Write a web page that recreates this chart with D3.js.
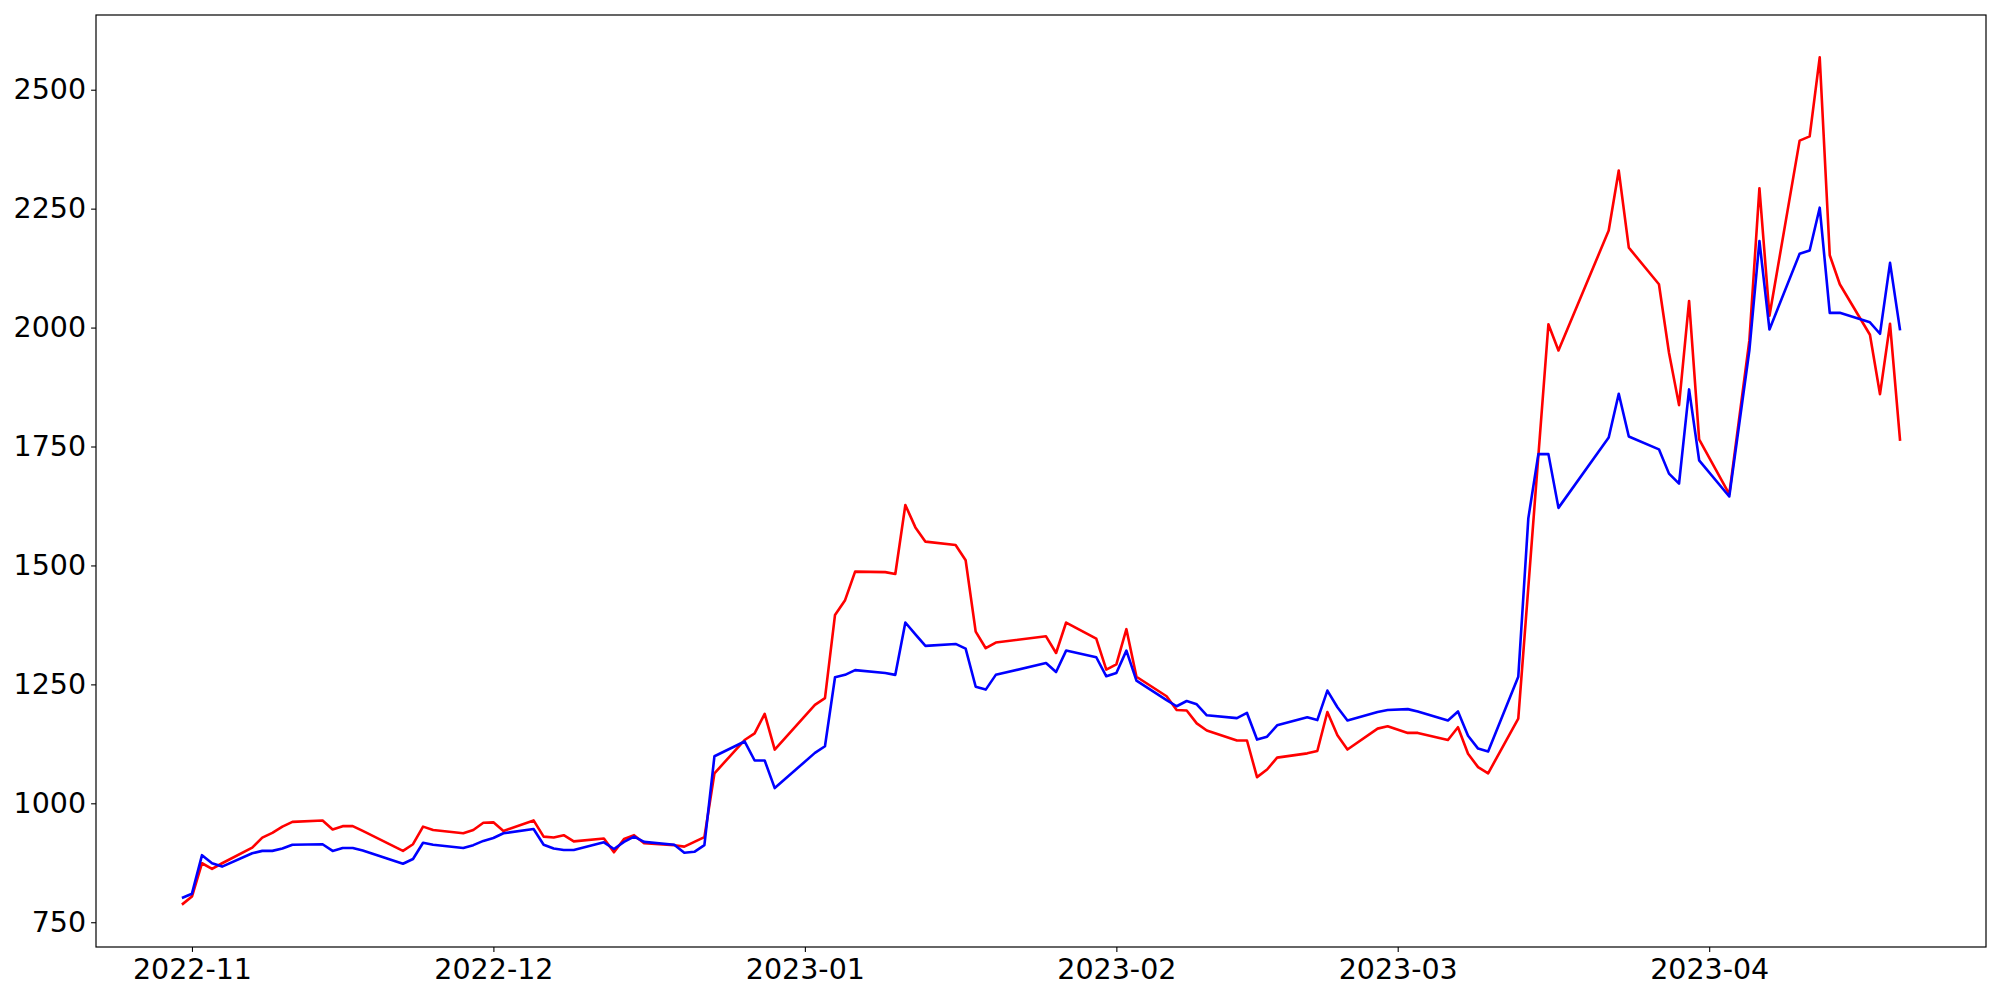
<!DOCTYPE html>
<html>
<head>
<meta charset="utf-8">
<script src="https://cdn.jsdelivr.net/npm/d3@7"></script>
<style>
  body { margin: 0; background: #fff; }
  svg { display: block; }
  .tick text { font-family: "DejaVu Sans", sans-serif; font-size: 28.5px; fill: #000; }
</style>
</head>
<body>
<svg></svg>
<script>
var dates = [
    "2022-10-31", "2022-11-01", "2022-11-02", "2022-11-03", "2022-11-04",
    "2022-11-07", "2022-11-08", "2022-11-09", "2022-11-10", "2022-11-11",
    "2022-11-14", "2022-11-15", "2022-11-16", "2022-11-17", "2022-11-18",
    "2022-11-22", "2022-11-23", "2022-11-24", "2022-11-25",
    "2022-11-28", "2022-11-29", "2022-11-30",
    "2022-12-01", "2022-12-02",
    "2022-12-05", "2022-12-06", "2022-12-07", "2022-12-08", "2022-12-09",
    "2022-12-12", "2022-12-13", "2022-12-14", "2022-12-15", "2022-12-16",
    "2022-12-19", "2022-12-20", "2022-12-21", "2022-12-22", "2022-12-23",
    "2022-12-26", "2022-12-27", "2022-12-28", "2022-12-29",
    "2023-01-02", "2023-01-03", "2023-01-04", "2023-01-05", "2023-01-06",
    "2023-01-09", "2023-01-10", "2023-01-11", "2023-01-12", "2023-01-13",
    "2023-01-16", "2023-01-17", "2023-01-18", "2023-01-19", "2023-01-20",
    "2023-01-25", "2023-01-26", "2023-01-27",
    "2023-01-30", "2023-01-31",
    "2023-02-01", "2023-02-02", "2023-02-03",
    "2023-02-06", "2023-02-07", "2023-02-08", "2023-02-09", "2023-02-10",
    "2023-02-13", "2023-02-14", "2023-02-15", "2023-02-16", "2023-02-17",
    "2023-02-20", "2023-02-21", "2023-02-22", "2023-02-23", "2023-02-24",
    "2023-02-27", "2023-02-28",
    "2023-03-02", "2023-03-03",
    "2023-03-06", "2023-03-07", "2023-03-08", "2023-03-09", "2023-03-10",
    "2023-03-13", "2023-03-14", "2023-03-15", "2023-03-16", "2023-03-17",
    "2023-03-22", "2023-03-23", "2023-03-24",
    "2023-03-27", "2023-03-28", "2023-03-29", "2023-03-30", "2023-03-31",
    "2023-04-03", "2023-04-05", "2023-04-06", "2023-04-07",
    "2023-04-10", "2023-04-11", "2023-04-12", "2023-04-13", "2023-04-14",
    "2023-04-17", "2023-04-18", "2023-04-19", "2023-04-20"
];

var redValues = [
    787, 804, 874, 862, 874,
    907, 928, 938, 951, 961,
    964, 945, 952, 952, 942,
    900, 914, 951, 944,
    937, 944, 959,
    960, 942,
    964, 930, 928, 933, 920,
    926, 897, 925, 933, 916,
    912, 909, 919, 929, 1063,
    1133, 1147, 1188, 1113,
    1207, 1221, 1396, 1427, 1487,
    1486, 1482, 1627, 1580, 1550,
    1543, 1511, 1361, 1326, 1338,
    1351, 1316, 1380,
    1346, 1281,
    1292, 1366, 1266,
    1225, 1196, 1195, 1168, 1153,
    1132, 1132, 1055, 1071, 1096,
    1105, 1110, 1192, 1143, 1113,
    1157, 1162,
    1148, 1148,
    1133, 1160, 1104, 1076, 1063,
    1178, 1454, 1731, 2007, 1952,
    2204, 2330, 2168,
    2091, 1947, 1837, 2056, 1765,
    1650, 1973, 2293, 2025,
    2393, 2402, 2568, 2152, 2091,
    1985, 1860, 2008, 1762
];

var blueValues = [
    801, 810, 891, 874, 867,
    895, 900, 900, 905, 913,
    914, 900, 906, 906, 901,
    873, 883, 917, 913,
    906, 912, 921,
    927, 937,
    946, 913, 905, 902, 902,
    918, 904, 919, 930, 919,
    913, 896, 898, 912, 1099,
    1130, 1090, 1090, 1032,
    1106, 1120, 1265, 1270, 1280,
    1274, 1270, 1380, 1355, 1331,
    1335, 1325, 1245, 1239, 1270,
    1295, 1276, 1321,
    1307, 1267,
    1274, 1321, 1258,
    1217, 1204, 1215, 1208, 1185,
    1179, 1190, 1134, 1140, 1164,
    1181, 1175, 1237, 1202, 1174,
    1192, 1196,
    1198, 1193,
    1174, 1193, 1142, 1115, 1109,
    1266, 1599, 1734, 1734, 1621,
    1769, 1861, 1771,
    1744, 1693, 1672, 1870, 1721,
    1645, 1952, 2182, 1996,
    2155, 2162, 2252, 2031, 2031,
    2011, 1987, 2136, 1994
];

var yTicks = [750, 1000, 1250, 1500, 1750, 2000, 2250, 2500];

var svgwidth = 2000, svgheight = 1000;
var margin = {left: 96, right: 14, top: 15, bottom: 53};
var w = svgwidth - margin.left - margin.right,
    h = svgheight - margin.top - margin.bottom;

var parse = d3.timeParse("%Y-%m-%d");
var xs = dates.map(parse);

// matplotlib style 5% margins
var xMin = d3.min(xs).getTime(), xMax = d3.max(xs).getTime();
var xPad = (xMax - xMin) * 0.05;
var yMin = d3.min(redValues.concat(blueValues)), yMax = d3.max(redValues.concat(blueValues));
var yPad = (yMax - yMin) * 0.05;

var x = d3.scaleTime()
        .domain([new Date(xMin - xPad), new Date(xMax + xPad)])
        .range([0, w]);
var y = d3.scaleLinear()
        .domain([yMin - yPad, yMax + yPad])
        .range([h, 0]);

var svg = d3.select("svg")
        .attr("width", svgwidth)
        .attr("height", svgheight);

svg.append("defs").append("clipPath")
        .attr("id", "clip")
        .append("rect")
        .attr("width", w)
        .attr("height", h);

var g = svg.append("g")
        .attr("transform", "translate(" + margin.left + "," + margin.top + ")");

var line = function (vals) {
    return d3.line()
            .x(function (d, i) { return x(xs[i]); })
            .y(function (d) { return y(d); })(vals);
};

var plot = g.append("g").attr("clip-path", "url(#clip)");

plot.append("path")
        .attr("d", line(redValues))
        .attr("fill", "none")
        .attr("stroke", "#ff0000")
        .attr("stroke-width", 2.6)
        .attr("stroke-linejoin", "round");

plot.append("path")
        .attr("d", line(blueValues))
        .attr("fill", "none")
        .attr("stroke", "#0000ff")
        .attr("stroke-width", 2.6)
        .attr("stroke-linejoin", "round");

var xAxis = g.append("g")
        .attr("transform", "translate(0," + h + ")")
        .call(d3.axisBottom(x)
                .ticks(d3.timeMonth.every(1))
                .tickFormat(d3.timeFormat("%Y-%m"))
                .tickSize(4.9)
                .tickPadding(6.5));

var yAxis = g.append("g")
        .call(d3.axisLeft(y)
                .tickValues(yTicks)
                .tickFormat(d3.format("d"))
                .tickSize(4.9)
                .tickPadding(5));

[xAxis, yAxis].forEach(function (ax) {
    ax.select(".domain").remove();
    ax.selectAll(".tick line").attr("stroke", "#000").attr("stroke-width", 1.1);
    ax.selectAll(".tick text").attr("font-size", null).attr("font-family", null);
});

g.append("rect")
        .attr("width", w)
        .attr("height", h)
        .attr("fill", "none")
        .attr("stroke", "#000")
        .attr("stroke-width", 1.2);
</script>
</body>
</html>
